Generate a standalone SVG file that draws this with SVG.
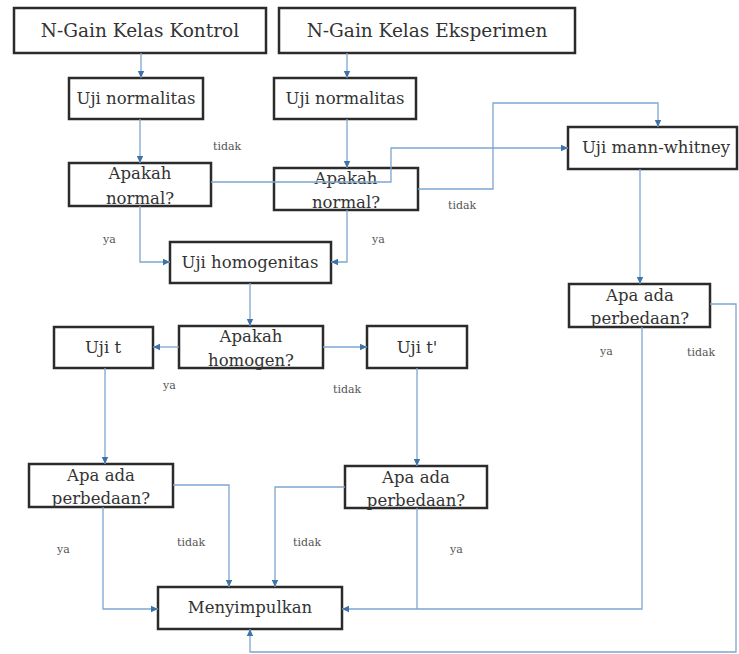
<svg xmlns="http://www.w3.org/2000/svg" width="739" height="654" viewBox="0 0 739 654">
<style>
text{font-family:"DejaVu Serif","Liberation Serif",serif}
.box{fill:#fff;stroke:#2b2b2b;stroke-width:2.5}
.t{font-size:16.5px;fill:#333;text-anchor:middle}
.big{font-size:18.5px}
.lbl{font-size:11px;fill:#555}
.c{fill:none;stroke:#7ea6cf;stroke-width:1.3}
.a{marker-end:url(#arr)}
</style>
<defs>
<marker id="arr" markerUnits="userSpaceOnUse" markerWidth="8" markerHeight="8" refX="7" refY="4" orient="auto">
<path d="M0,0.8 L7,4 L0,7.2 z" fill="#3f72a8"/>
</marker>
</defs>
<rect width="739" height="654" fill="#fff"/>
<g id="nodes">
<g id="n-kontrol"><rect class="box" x="14" y="8" width="252" height="45"/><text class="t big" x="140" y="37">N-Gain Kelas Kontrol</text></g>
<g id="n-eksperimen"><rect class="box" x="279" y="8" width="296" height="45"/><text class="t big" x="427" y="37">N-Gain Kelas Eksperimen</text></g>
<g id="n-norm1"><rect class="box" x="69" y="78" width="134" height="41"/><text class="t" x="136" y="104">Uji normalitas</text></g>
<g id="n-norm2"><rect class="box" x="274" y="78" width="142" height="41"/><text class="t" x="345" y="104">Uji normalitas</text></g>
<g id="n-apnorm1"><rect class="box" x="69" y="163" width="142" height="43"/><text class="t" x="140" y="179">Apakah</text><text class="t" x="140" y="204">normal?</text></g>
<g id="n-apnorm2"><rect class="box" x="274" y="168" width="144" height="42"/><text class="t" x="346" y="184">Apakah</text><text class="t" x="346" y="208">normal?</text></g>
<g id="n-mann"><rect class="box" x="568" y="127" width="169" height="42"/><text class="t" x="656" y="153">Uji mann-whitney</text></g>
<g id="n-homog"><rect class="box" x="170" y="242" width="161" height="41"/><text class="t" x="250" y="268">Uji homogenitas</text></g>
<g id="n-aphomog"><rect class="box" x="179" y="326" width="144" height="42"/><text class="t" x="251" y="342">Apakah</text><text class="t" x="251" y="366">homogen?</text></g>
<g id="n-ujit"><rect class="box" x="54" y="327" width="99" height="41"/><text class="t" x="103" y="353">Uji t</text></g>
<g id="n-ujit2"><rect class="box" x="367" y="326" width="100" height="42"/><text class="t" x="417" y="353">Uji t'</text></g>
<g id="n-beda3"><rect class="box" x="569" y="284" width="141" height="43"/><text class="t" x="640" y="301">Apa ada</text><text class="t" x="640" y="324">perbedaan?</text></g>
<g id="n-beda1"><rect class="box" x="29" y="464" width="144" height="43"/><text class="t" x="101" y="481">Apa ada</text><text class="t" x="101" y="504">perbedaan?</text></g>
<g id="n-beda2"><rect class="box" x="345" y="466" width="142" height="42"/><text class="t" x="416" y="483">Apa ada</text><text class="t" x="416" y="506">perbedaan?</text></g>
<g id="n-simpul"><rect class="box" x="158" y="587" width="184" height="42"/><text class="t" x="250" y="613">Menyimpulkan</text></g>
</g>
<g id="connectors">
<path class="c a" d="M141,53 V78"/>
<path class="c a" d="M347,53 V78"/>
<path class="c a" d="M140,119 V163"/>
<path class="c a" d="M347,119 V168"/>
<path class="c a" d="M211,182 H391 V148 H568"/>
<path class="c a" d="M418,189 H493 V103 H658 V127"/>
<path class="c a" d="M140,206 V262 H170"/>
<path class="c a" d="M347,210 V262 H331"/>
<path class="c a" d="M250,283 V326"/>
<path class="c a" d="M179,347 H153"/>
<path class="c a" d="M323,347 H367"/>
<path class="c a" d="M640,169 V284"/>
<path class="c a" d="M642,327 V609 H342"/>
<path class="c a" d="M710,304 H736 V652 H250 V629"/>
<path class="c a" d="M105,368 V464"/>
<path class="c a" d="M103,507 V609 H158"/>
<path class="c a" d="M173,485 H229 V587"/>
<path class="c a" d="M417,368 V466"/>
<path class="c a" d="M345,487 H275 V587"/>
<path class="c" d="M417,508 V609"/>
</g>
<g id="labels">
<text class="lbl" x="213" y="150">tidak</text>
<text class="lbl" x="448" y="209">tidak</text>
<text class="lbl" x="103" y="243">ya</text>
<text class="lbl" x="372" y="243">ya</text>
<text class="lbl" x="163" y="389">ya</text>
<text class="lbl" x="333" y="393">tidak</text>
<text class="lbl" x="600" y="355">ya</text>
<text class="lbl" x="687" y="356">tidak</text>
<text class="lbl" x="57" y="553">ya</text>
<text class="lbl" x="177" y="546">tidak</text>
<text class="lbl" x="293" y="546">tidak</text>
<text class="lbl" x="450" y="553">ya</text>
</g>
</svg>
